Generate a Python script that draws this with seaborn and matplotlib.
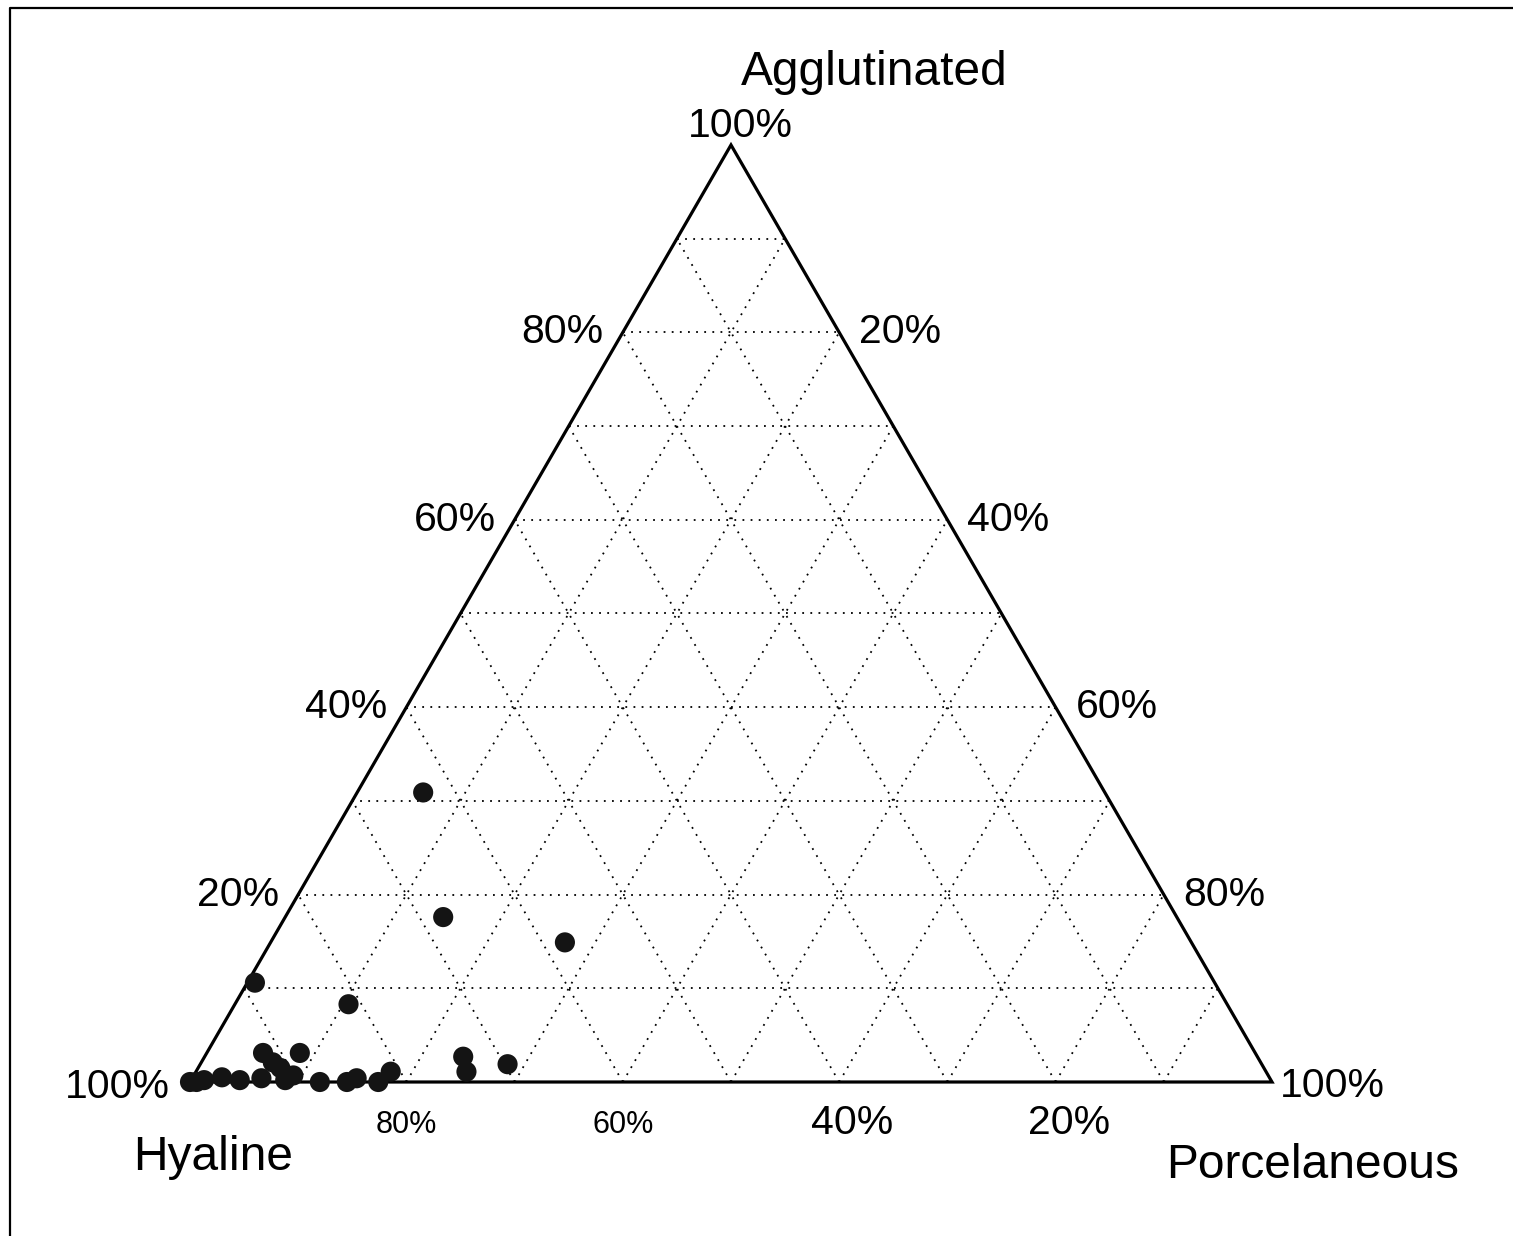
import numpy as np
import pandas as pd
import matplotlib
matplotlib.use("Agg")
import matplotlib.pyplot as plt
from matplotlib.lines import Line2D
import seaborn as sns

# ---- data (percent composition of each sample) ----
hyaline = [63.0, 67.8, 57.9, 88.7, 81.2, 73.4, 73.9, 69.7, 88.3, 91.7,
           100.0, 99.4, 98.6, 96.8, 95.3, 93.2, 90.9, 91.1, 90.1, 88.0,
           85.5, 84.4, 82.6, 80.9, 91.3]
porcelaneous = [6.1, 14.6, 27.2, 0.7, 10.5, 23.9, 25.0, 28.4, 8.6, 5.2,
                0.0, 0.6, 1.2, 2.7, 4.5, 6.4, 7.6, 8.7, 9.2, 12.0,
                14.5, 15.2, 17.4, 18.0, 6.6]
agglutinated = [30.9, 17.6, 14.9, 10.6, 8.3, 2.7, 1.1, 1.9, 3.1, 3.1,
                0.0, 0.0, 0.2, 0.5, 0.2, 0.4, 1.5, 0.2, 0.7, 0.0,
                0.0, 0.4, 0.0, 1.1, 2.1]
tick_values = [20, 40, 60, 80]
tick_labels = ["20%", "40%", "60%", "80%"]
corner_names = ["Agglutinated", "Hyaline", "Porcelaneous"]

sns.set_theme(style="white")
plt.rcParams["font.family"] = ["Liberation Sans", "DejaVu Sans"]
plt.rcParams["text.color"] = "black"

W, H = 1513, 1236
fig = plt.figure(figsize=(W / 100, H / 100), dpi=100)
ax = fig.add_axes([0, 0, 1, 1])
S = 1082.0  # pixels per unit
X0, Y0 = 190.0, 1082.0
ax.set_xlim(-X0 / S, (W - X0) / S)
ax.set_ylim(-(H - Y0) / S, Y0 / S)
ax.axis("off")
r3 = np.sqrt(3) / 2


def tern(p, a):
    """porcelaneous, agglutinated fractions -> cartesian"""
    return p + a / 2.0, a * r3


def px(x, y):
    return (x - X0) / S, (Y0 - y) / S


grid_kw = dict(ls=(0, (1, 3.5)), lw=1.3, color="black", zorder=1)
for v in range(10, 100, 10):
    f = v / 100.0
    xa, ya = tern(0, f); xb, yb = tern(1 - f, f)
    ax.plot([xa, xb], [ya, yb], **grid_kw)
    xa, ya = tern(f, 0); xb, yb = tern(f, 1 - f)
    ax.plot([xa, xb], [ya, yb], **grid_kw)
    xa, ya = tern(1 - f, 0); xb, yb = tern(0, 1 - f)
    ax.plot([xa, xb], [ya, yb], **grid_kw)

# triangle
tx = [0, 1, 0.5, 0]
ty = [0, 0, r3, 0]
ax.plot(tx, ty, color="black", lw=2.3, solid_joinstyle="miter", zorder=2)

# points
df = pd.DataFrame({"H": hyaline, "P": porcelaneous, "A": agglutinated})
tot = df[["H", "P", "A"]].sum(axis=1)
df["x"] = df["P"] / tot + df["A"] / tot / 2
df["y"] = df["A"] / tot * r3
sns.scatterplot(data=df, x="x", y="y", ax=ax, s=210, color="#141414",
                edgecolor="none", linewidth=0, zorder=3, legend=False)

fs_tick = 29.5
fs_small = 22
fs_title = 34.5
dx = 1.0 / S
tk = dict(ha="center", va="baseline", color="black")

for v, lab in zip(tick_values, tick_labels):
    x, y = tern(0, v / 100)
    ax.text(x - 60 * dx, y - 11 * dx, lab, fontsize=fs_tick, **tk)
for v, lab in zip(tick_values, tick_labels):
    x, y = tern(v / 100, 1 - v / 100)
    ax.text(x + 61 * dx, y - 11 * dx, lab, fontsize=fs_tick, **tk)
for v, lab in zip(tick_values, tick_labels):
    x, y = tern(1 - v / 100, 0)
    if v >= 60:
        ax.text(x, y - 51 * dx, lab, fontsize=fs_small, **tk)
    else:
        ax.text(x + 13 * dx, y - 52 * dx, lab, fontsize=fs_tick, **tk)

x, y = tern(0, 1)
ax.text(x + 9 * dx, y + 8 * dx, "100%", fontsize=fs_tick, **tk)
x, y = tern(0, 0)
ax.text(x - 73 * dx, y - 16 * dx, "100%", fontsize=fs_tick, **tk)
x, y = tern(1, 0)
ax.text(x + 60 * dx, y - 15 * dx, "100%", fontsize=fs_tick, **tk)

ax.text(*px(874, 85), corner_names[0], fontsize=fs_title, **tk)
ax.text(*px(213, 1170), corner_names[1], fontsize=fs_title, **tk)
ax.text(*px(1313, 1178), corner_names[2], fontsize=fs_title, **tk)

fig.add_artist(Line2D([10 / W, 10 / W, 1.0], [0.0, 1 - 8 / H, 1 - 8 / H],
                      transform=fig.transFigure, color="black", lw=1.6))

fig.savefig("out.png", dpi=100, facecolor="white")
